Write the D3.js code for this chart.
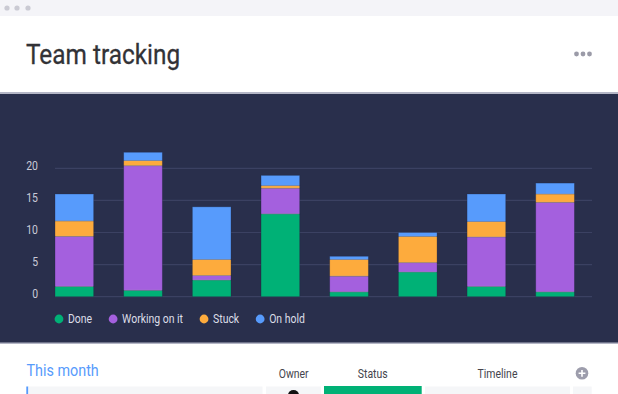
<!DOCTYPE html>
<html lang="en">
<head>
	<meta charset="UTF-8">
	<title>Team tracking</title>
	<script src="https://cdn.jsdelivr.net/npm/d3@7"></script>
	<style>
		body { margin: 0; background: #fff; }
		text { font-family: Roboto, "Noto Sans", sans-serif; }
	</style>
</head>
<body>
	<div id="container"></div>
	<script>
		// chart data
		var weeks   = ["W1", "W2", "W3", "W4", "W5", "W6", "W7", "W8"];
		var statuses = ["Done", "Working on it", "Stuck", "On hold"];
		var done    = [1.6, 1.0, 2.6, 12.9, 0.75, 3.85, 1.6, 0.75];
		var working = [7.8, 19.4, 0.7, 4.0, 2.45, 1.45, 7.7, 13.95];
		var stuck   = [2.4, 0.8, 2.5, 0.4, 2.6, 4.1, 2.4, 1.3];
		var onHold  = [4.2, 1.3, 8.2, 1.6, 0.5, 0.6, 4.3, 1.7];
		var yTicks  = [0, 5, 10, 15, 20];
		var columns = ["Owner", "Status", "Timeline"];

		var colors = ["#00b176", "#a460de", "#fdab3d", "#579bfc"];

		width = 618;
		height = 394;
		var SQ = 0.87; // the screenshot text is a bit narrow

		// returns nothing, just narrows the glyphs like in the screenshot
		function squish(sel) {
			sel.each(function () {
				var w = this.getComputedTextLength();
				d3.select(this).attr("textLength", w * SQ).attr("lengthAdjust", "spacingAndGlyphs");
			});
		}

		var svg = d3.select("#container").append("svg")
				.attr("width", width)
				.attr("height", height);

		// window chrome
		svg.append("rect").attr("x", 0).attr("y", 0).attr("width", width).attr("height", 16)
				.attr("fill", "#f4f4f8");
		svg.selectAll(".win-dot").data([7, 17, 28])
			.enter().append("circle")
				.attr("cx", d => d).attr("cy", 8).attr("r", 2.6)
				.attr("fill", "#cacad3");

		svg.append("text").attr("x", 26).attr("y", 64)
				.attr("font-size", 28).attr("fill", "#323236")
				.style("stroke", "#323236").style("stroke-width", 0.3)
				.text("Team tracking").call(squish);

		svg.selectAll(".menu-dot").data([576.5, 583, 589.5])
			.enter().append("circle")
				.attr("cx", d => d).attr("cy", 54).attr("r", 2.4)
				.attr("fill", "#9b9ba8");

		// dark chart panel
		svg.append("rect").attr("x", 0).attr("y", 92).attr("width", width).attr("height", 252)
				.attr("fill", "#b4b6c6");
		svg.append("rect").attr("x", 0).attr("y", 94).attr("width", width).attr("height", 248.5)
				.attr("fill", "#292f4c");

		var x = d3.scaleBand()
				.domain(weeks)
				.range([55, 574.4])
				.paddingInner(0.437)
				.paddingOuter(0);
		var y = d3.scaleLinear()
				.domain([0, 20])
				.range([296.7, 168.3]);

		svg.selectAll(".grid").data(yTicks)
			.enter().append("line")
				.attr("x1", 55).attr("x2", 592)
				.attr("y1", d => y(d)).attr("y2", d => y(d))
				.attr("stroke", "#3b4162").attr("stroke-width", 1.2);

		svg.selectAll(".ytick").data(yTicks)
			.enter().append("text")
				.attr("x", 38)
				.attr("y", d => y(d) - 2.5)
				.attr("dy", "0.35em")
				.attr("text-anchor", "end")
				.attr("font-size", 12)
				.attr("fill", "#c9cbd8")
				.text(d => d)
				.call(squish);

		var rows = weeks.map((w, i) => ({week: w, "Done": done[i], "Working on it": working[i], "Stuck": stuck[i], "On hold": onHold[i]}));
		var series = d3.stack().keys(statuses)(rows);

		var layers = svg.selectAll(".layer").data(series)
			.enter().append("g")
				.attr("fill", (d, i) => colors[i]);

		layers.selectAll("rect").data(d => d)
			.enter().append("rect")
				.attr("x", d => x(d.data.week))
				.attr("y", d => y(d[1]))
				.attr("width", x.bandwidth())
				.attr("height", d => y(d[0]) - y(d[1]))
				.attr("stroke", "rgba(30,34,60,0.35)")
				.attr("stroke-width", 0.8);

		// faint seams between segments
		layers.filter((d, i) => i > 0).selectAll(".seam").data(d => d)
			.enter().append("line")
				.attr("x1", d => x(d.data.week) + 0.5)
				.attr("x2", d => x(d.data.week) + x.bandwidth() - 0.5)
				.attr("y1", d => y(d[0])).attr("y2", d => y(d[0]))
				.attr("stroke", "rgba(255,255,255,0.28)")
				.attr("stroke-width", 1);

		// legend
		var lx = 59;
		statuses.forEach((s, i) => {
			svg.append("circle").attr("cx", lx).attr("cy", 319).attr("r", 4.4)
					.attr("fill", colors[i]);
			var t = svg.append("text").attr("x", lx + 9).attr("y", 319).attr("dy", "0.35em")
					.attr("font-size", 12).attr("fill", "#dcdee8")
					.text(s).call(squish);
			// length is already the narrowed one here
			lx = lx + 9 + t.node().getComputedTextLength() + 21;
		});

		// table below
		svg.append("text").attr("x", 26.5).attr("y", 375.5)
				.attr("font-size", 16.5).attr("fill", "#579bfc")
				.text("This month").call(squish);

		var colX = [293.7, 372.7, 497.5];
		svg.selectAll(".col").data(columns)
			.enter().append("text")
				.attr("x", (d, i) => colX[i]).attr("y", 378.3)
				.attr("text-anchor", "middle")
				.attr("font-size", 12).attr("fill", "#44444c")
				.text(d => d).call(squish);

		svg.append("circle").attr("cx", 582).attr("cy", 373.3).attr("r", 6.3).attr("fill", "#9d9dac");
		svg.append("path").attr("d", "M578.6,373.3H585.4M582,369.9V376.7")
				.attr("stroke", "#fff").attr("stroke-width", 1.6);

		svg.append("rect").attr("x", 26.3).attr("y", 386.5).attr("width", 2).attr("height", 10).attr("fill", "#579bfc");
		svg.append("rect").attr("x", 28.5).attr("y", 386.5).attr("width", 234).attr("height", 10).attr("fill", "#f5f6f8");
		svg.append("rect").attr("x", 266).attr("y", 386.5).attr("width", 55).attr("height", 10).attr("fill", "#f5f6f8");
		svg.append("rect").attr("x", 324).attr("y", 386).attr("width", 97.7).attr("height", 10).attr("fill", "#00b176");
		svg.append("rect").attr("x", 425).attr("y", 386.5).attr("width", 145).attr("height", 10).attr("fill", "#f5f6f8");
		svg.append("rect").attr("x", 573).attr("y", 386.5).attr("width", 18.7).attr("height", 10).attr("fill", "#f5f6f8");
		svg.append("ellipse").attr("cx", 293.5).attr("cy", 395).attr("rx", 5.5).attr("ry", 5)
				.attr("fill", "#111");
	</script>
</body>
</html>
